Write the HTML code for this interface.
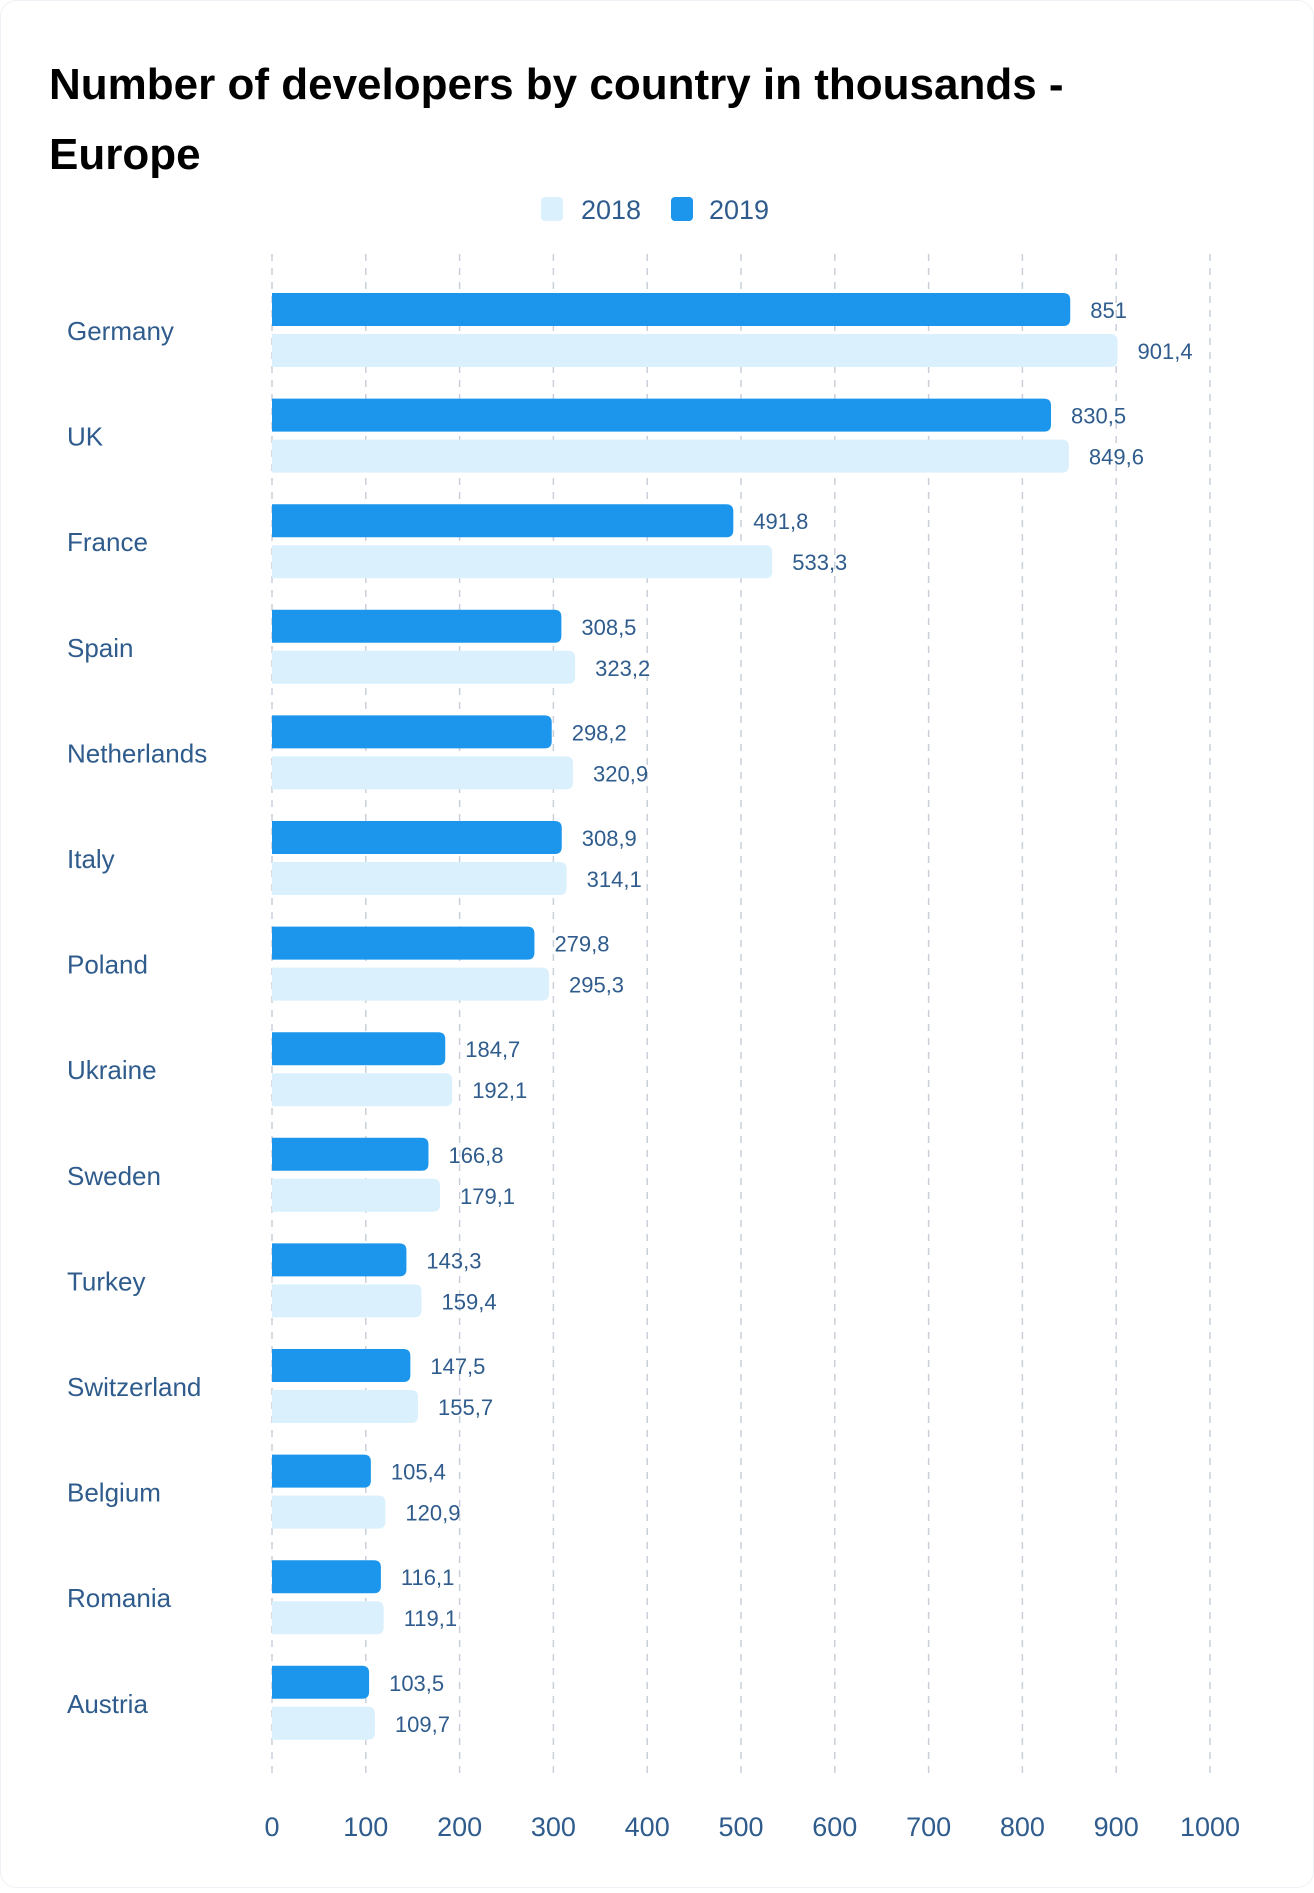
<!DOCTYPE html>
<html><head><meta charset="utf-8">
<style>
html,body{margin:0;padding:0;background:#fff;}
body{width:1314px;height:1888px;overflow:hidden;font-family:"Liberation Sans",sans-serif;}
</style></head>
<body>
<svg id="chart" width="1314" height="1888" xmlns="http://www.w3.org/2000/svg" font-family="Liberation Sans, sans-serif">
<rect x="0.5" y="0.5" width="1313" height="1887" rx="16" fill="#fff" stroke="#eef1f5"/>
<text x="49" y="99" font-size="44" font-weight="bold" fill="#000">Number of developers by country in thousands -</text>
<text x="49" y="169" font-size="44" font-weight="bold" fill="#000">Europe</text>
<g>
<rect x="541" y="197" width="22" height="24" rx="4" fill="#dbf0fd"/>
<text x="581" y="219" font-size="27" fill="#2f5c8c">2018</text>
<rect x="671" y="197" width="22" height="24" rx="4" fill="#1b96ec"/>
<text x="709" y="219" font-size="27" fill="#2f5c8c">2019</text>
</g>
<g id="grid"></g><g id="bars"></g><g id="labels"></g><g id="ticks"></g>
</svg>
<script>
const categories=["Germany","UK","France","Spain","Netherlands","Italy","Poland","Ukraine","Sweden","Turkey","Switzerland","Belgium","Romania","Austria"];
const values2019=[851,830.5,491.8,308.5,298.2,308.9,279.8,184.7,166.8,143.3,147.5,105.4,116.1,103.5];
const values2018=[901.4,849.6,533.3,323.2,320.9,314.1,295.3,192.1,179.1,159.4,155.7,120.9,119.1,109.7];
const tickValues=[0,100,200,300,400,500,600,700,800,900,1000];
const NS="http://www.w3.org/2000/svg";
const x0=272,x1=1210,xMax=1000;
function xs(v){return x0+(x1-x0)*v/xMax;}
function rowCenter(i){return 330+105.6*i;}
function mk(tag,attrs,parent){const e=document.createElementNS(NS,tag);for(const k in attrs)e.setAttribute(k,attrs[k]);parent.appendChild(e);return e;}
function fmt(v){return String(v).replace('.',',');}
function barPath(x,y,w,h,r){r=Math.min(r,w);return `M${x},${y}H${x+w-r}Q${x+w},${y} ${x+w},${y+r}V${y+h-r}Q${x+w},${y+h} ${x+w-r},${y+h}H${x}Z`;}
const grid=document.getElementById('grid'),bars=document.getElementById('bars'),labels=document.getElementById('labels'),ticks=document.getElementById('ticks');
tickValues.forEach(t=>{
  const l=mk('line',{x1:xs(t),x2:xs(t),y1:254,y2:1778,stroke:'#c9d0da','stroke-width':1.5,'stroke-dasharray':'7,7'},grid);
  
  
  const tx=mk('text',{x:xs(t),y:1836,'font-size':27,fill:'#2f5c8c','text-anchor':'middle'},ticks);
  tx.textContent=t;
  
  
});
categories.forEach((c,i)=>{
  const cy=rowCenter(i);
  const lab=mk('text',{x:67,y:cy+10,'font-size':26,fill:'#2f5c8c'},labels);
  lab.textContent=c;
  
  
  const y19=cy-37,y18=cy+4;
  const b19=mk('path',{d:barPath(x0,y19,xs(values2019[i])-x0,33,7),fill:'#1b96ec'},bars);
  
  
  const b18=mk('path',{d:barPath(x0,y18,xs(values2018[i])-x0,33,7),fill:'#dbf0fd'},bars);
  
  
  const v19=mk('text',{x:xs(values2019[i])+20,y:y19+25,'font-size':22,fill:'#2f5c8c'},labels);
  v19.textContent=fmt(values2019[i]);
  
  
  const v18=mk('text',{x:xs(values2018[i])+20,y:y18+25,'font-size':22,fill:'#2f5c8c'},labels);
  v18.textContent=fmt(values2018[i]);
  
  
});
</script>
</body></html>
